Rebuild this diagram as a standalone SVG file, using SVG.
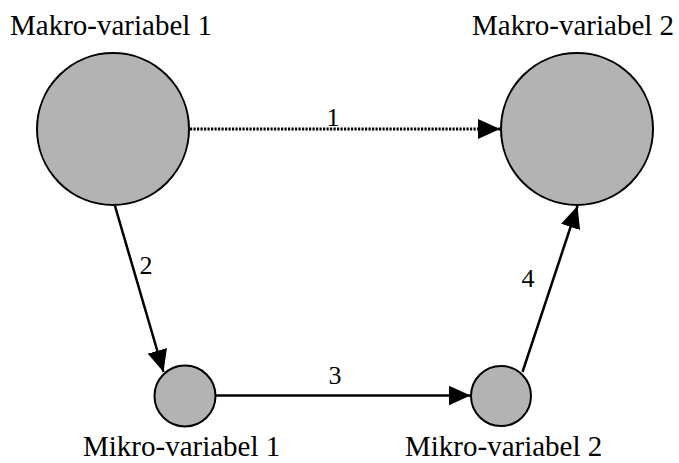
<svg xmlns="http://www.w3.org/2000/svg" width="679" height="463" viewBox="0 0 679 463">
<style>
.node{fill:#b3b3b3;stroke:#000;stroke-width:2}
.lbl{font-family:"Liberation Serif","Times New Roman",serif;font-size:29px;fill:#000}
.num{font-family:"Liberation Serif","Times New Roman",serif;font-size:26px;fill:#000;text-anchor:middle}
.edge{stroke:#000;stroke-width:2.5;fill:none}
.dot{stroke-width:3;stroke-dasharray:2.2 1.3}
</style>
<defs>
<marker id="ah" markerUnits="userSpaceOnUse" markerWidth="22" markerHeight="20" refX="22" refY="10" orient="auto">
<path d="M0,0 L22,10 L0,20 Z" fill="#000"/>
</marker>
</defs>
<rect width="679" height="463" fill="#fff"/>
<g id="makro1">
<circle class="node" cx="113" cy="129" r="76"/>
<text class="lbl" x="10" y="35">Makro-variabel 1</text>
</g>
<g id="makro2">
<circle class="node" cx="577" cy="129" r="76"/>
<text class="lbl" x="472" y="35">Makro-variabel 2</text>
</g>
<g id="mikro1">
<circle class="node" cx="185" cy="396" r="30.5"/>
<text class="lbl" x="83" y="456">Mikro-variabel 1</text>
</g>
<g id="mikro2">
<circle class="node" cx="501" cy="396" r="30"/>
<text class="lbl" x="405" y="456">Mikro-variabel 2</text>
</g>
<g id="connectors">
<line class="edge dot" x1="190" y1="129" x2="500" y2="129" marker-end="url(#ah)"/>
<line class="edge" x1="115" y1="206" x2="163.5" y2="372" marker-end="url(#ah)"/>
<line class="edge" x1="215.5" y1="395.5" x2="470.5" y2="395.5" marker-end="url(#ah)"/>
<line class="edge" x1="522.5" y1="372" x2="577.5" y2="206" marker-end="url(#ah)"/>
<text class="num" x="333" y="126">1</text>
<text class="num" x="146" y="274">2</text>
<text class="num" x="335" y="384">3</text>
<text class="num" x="528" y="287">4</text>
</g>
</svg>
